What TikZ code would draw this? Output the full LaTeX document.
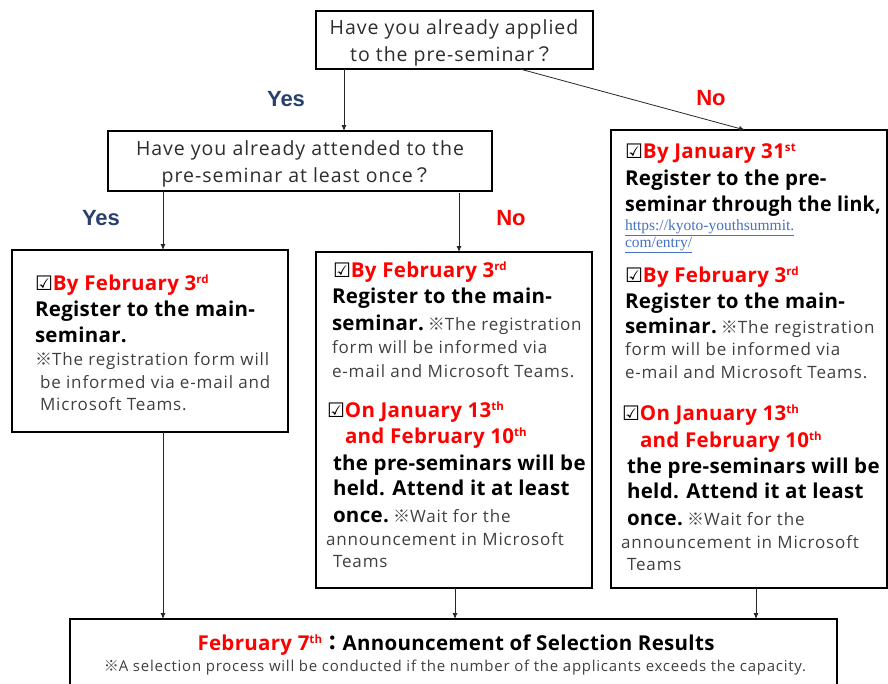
\documentclass[tikz,border=0pt]{standalone}
\usepackage{fontspec}
\setmainfont{Open Sans}[LetterSpace=5,BoldFeatures={LetterSpace=1.5}]
\newfontfamily\cjk{Noto Sans CJK JP}
\newfontfamily\symfont{DejaVu Sans}
\newfontfamily\linkfont{Liberation Serif}
\newfontfamily\labfont{Liberation Sans}
\usetikzlibrary{arrows.meta,calc}
\definecolor{myred}{RGB}{255,0,0}
\definecolor{yesblue}{RGB}{40,64,110}
\definecolor{notegray}{RGB}{64,64,64}
\definecolor{qgray}{RGB}{45,45,45}
\definecolor{linkblue}{RGB}{68,114,196}
\newcommand\KM{{\cjk ※}}
\newcommand\QM{{\cjk ？}}
\newcommand\SupT[1]{\raisebox{7pt}{\fontsize{11.5}{11.5}\selectfont #1}}
\newcommand\BoldT[1]{{\fontsize{20.5}{24}\selectfont\bfseries #1}}
\newcommand\RedT[1]{{\fontsize{20.5}{24}\selectfont\bfseries\color{myred}#1}}
\newcommand\NoteT[1]{{\fontsize{17}{20}\selectfont\color{notegray}#1}}
\newcommand\ChkBox{{\symfont\fontsize{20}{20}\selectfont\color{black}☑}}
\newcommand\LinkT[1]{{\linkfont\fontsize{15.5}{16}\selectfont\color{linkblue}\underline{#1}}}
\begin{document}
\begin{tikzpicture}[x=1pt,y=-1pt,
  box/.style={draw=black,line width=1.6pt,fill=none,rectangle,anchor=north west,inner sep=0pt,outer sep=0pt},
  ln/.style={anchor=base west,inner sep=0pt,outer sep=0pt},
  qtext/.style={anchor=base,inner sep=0pt,font=\fontsize{19.5}{24}\selectfont,text=qgray},
  yeslab/.style={font=\labfont\fontsize{22}{24}\selectfont\bfseries,text=yesblue,inner sep=0pt},
  nolab/.style={font=\labfont\fontsize{22}{24}\selectfont\bfseries,text=myred,inner sep=0pt},
  arr/.style={draw=black!85,line width=0.8pt,-{Latex[length=6pt,width=5pt]}}]
\useasboundingbox (0,0) rectangle (888,683);
\clip (0,0) rectangle (888,683);
\fill[white] (0,0) rectangle (888,683);
% boxes
\node[box,minimum width=277pt,minimum height=58pt] (q1) at (316,11) {};
\node[box,minimum width=384pt,minimum height=60pt] (q2) at (108,131) {};
\node[box,minimum width=276pt,minimum height=182pt] (L) at (12,250) {};
\node[box,minimum width=276pt,minimum height=336pt] (M) at (316,252) {};
\node[box,minimum width=276pt,minimum height=458pt] (R) at (611,130) {};
\node[box,minimum width=767pt,minimum height=100pt] (B) at (70,619) {};
% question texts
\node[qtext] (q1a) at (454,34) {Have you already applied};
\node[qtext] (q1b) at (452,61) {to the pre-seminar\QM};
\node[qtext] (q2a) at (300,155) {Have you already attended to the};
\node[qtext] (q2b) at (297,182) {pre-seminar at least once\QM};
% labels
\node[yeslab] (y1) at (286,99) {Yes};
\node[nolab] (n1) at (711,98) {No};
\node[yeslab] (y2) at (101,218) {Yes};
\node[nolab] (n2) at (511,218) {No};
% connector end points
\coordinate (s1) at ($(q1.south west)+(28,0)$);
\coordinate (s2) at ($(q1.south west)+(204,0)$);
\coordinate (e2) at ($(R.north west)+(134,0)$);
\coordinate (s3) at ($(q2.south west)+(55,0)$);
\coordinate (s4) at ($(q2.south west)+(351,2)$);
\coordinate (s5) at ($(L.south west)+(151,0)$);
\coordinate (s6) at ($(M.south west)+(139,0)$);
\coordinate (s7) at ($(R.south west)+(145,0)$);
% connectors
\draw[arr] (s1) -- (s1 |- q2.north);
\draw[arr] (s2) -- (e2);
\draw[arr] (s3) -- (s3 |- L.north);
\draw[arr] (s4) -- (s4 |- M.north);
\draw[arr] (s5) -- (s5 |- B.north);
\draw[arr] (s6) -- (s6 |- B.north);
\draw[arr] (s7) -- (s7 |- B.north);
% left box
\node[ln] (L1) at (35,290) {\ChkBox\RedT{By February 3\SupT{rd}}};
\node[ln] (L2) at (35,316) {\BoldT{Register to the main-}};
\node[ln] (L3) at (35,342) {\BoldT{seminar.}};
\node[ln] (L4) at (35,365) {\NoteT{\KM The registration form will}};
\node[ln] (L5) at (40,388) {\NoteT{be informed via e-mail and}};
\node[ln] (L6) at (40,410) {\NoteT{Microsoft Teams.}};
% middle box
\node[ln] (M1) at (333,277) {\ChkBox\RedT{By February 3\SupT{rd}}};
\node[ln] (M2) at (332,303) {\BoldT{Register to the main-}};
\node[ln] (M3) at (332,330) {\BoldT{seminar.} \NoteT{\KM The registration}};
\node[ln] (M4) at (332,353) {\NoteT{form will be informed via}};
\node[ln] (M5) at (332,377) {\NoteT{e-mail and Microsoft Teams.}};
\node[ln] (M6) at (327,417) {\ChkBox\RedT{On January 13\SupT{th}}};
\node[ln] (M7) at (345,443) {\RedT{and February 10\SupT{th}}};
\node[ln] (M8) at (333,470) {\BoldT{the pre-seminars will be}};
\node[ln] (M9) at (333,495) {\BoldT{held. Attend it at least}};
\node[ln] (M10) at (333,522) {\BoldT{once.} \NoteT{\KM Wait for the}};
\node[ln] (M11) at (326,545) {\NoteT{announcement in Microsoft}};
\node[ln] (M12) at (333,567) {\NoteT{Teams}};
% right box
\node[ln] (R1) at (625,158) {\ChkBox\RedT{By January 31\SupT{st}}};
\node[ln] (R2) at (625,185) {\BoldT{Register to the pre-}};
\node[ln] (R3) at (625,211) {\scalebox{0.955}[1]{\BoldT{seminar through the link,}}};
\node[ln] (R4) at (625,230) {\LinkT{https://kyoto-youthsummit.}};
\node[ln] (R5) at (625,247) {\LinkT{com/entry/}};
\node[ln] (R6) at (625,282) {\ChkBox\RedT{By February 3\SupT{rd}}};
\node[ln] (R7) at (625,308) {\BoldT{Register to the main-}};
\node[ln] (R8) at (625,333) {\BoldT{seminar.} \NoteT{\KM The registration}};
\node[ln] (R9) at (625,355) {\NoteT{form will be informed via}};
\node[ln] (R10) at (625,378) {\NoteT{e-mail and Microsoft Teams.}};
\node[ln] (R11) at (622,420) {\ChkBox\RedT{On January 13\SupT{th}}};
\node[ln] (R12) at (640,447) {\RedT{and February 10\SupT{th}}};
\node[ln] (R13) at (627,473) {\BoldT{the pre-seminars will be}};
\node[ln] (R14) at (627,498) {\BoldT{held. Attend it at least}};
\node[ln] (R15) at (627,525) {\BoldT{once.} \NoteT{\KM Wait for the}};
\node[ln] (R16) at (621,548) {\NoteT{announcement in Microsoft}};
\node[ln] (R17) at (627,570) {\NoteT{Teams}};
% bottom box
\node[anchor=base,inner sep=0pt] (B1) at (456,650) {{\fontsize{20.5}{24}\selectfont\bfseries\color{myred}February 7\SupT{th}}{\fontsize{20.5}{24}\selectfont\bfseries{\cjk ：}Announcement of Selection Results}};
\node[anchor=base,inner sep=0pt] (B2) at (455,671) {{\fontsize{15}{18}\selectfont\color{notegray}\KM A selection process will be conducted if the number of the applicants exceeds the capacity.}};
\end{tikzpicture}
\end{document}
